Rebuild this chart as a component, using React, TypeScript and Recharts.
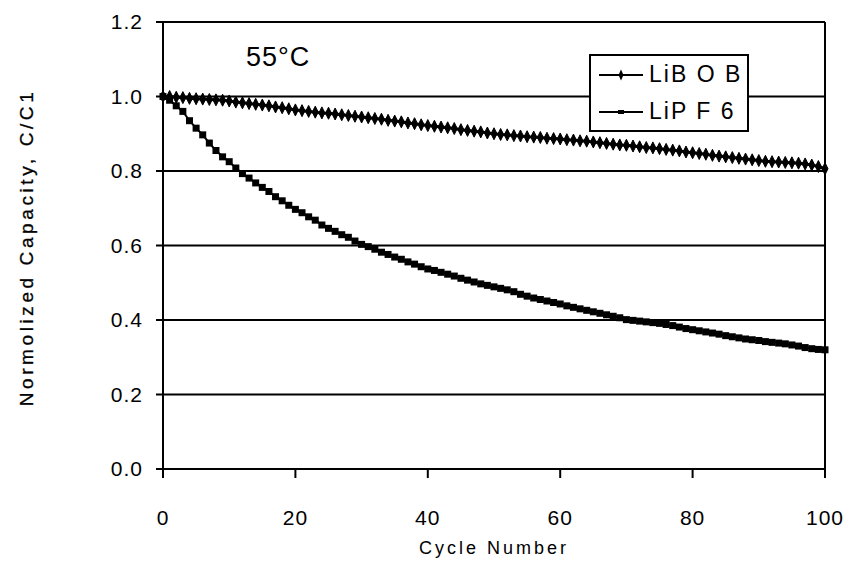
import React from "react";
import {
  LineChart,
  Line,
  XAxis,
  YAxis,
  CartesianGrid,
  ReferenceLine,
  Legend,
} from "recharts";

const cycles = [
  0, 1, 2, 3, 4, 5, 6, 7, 8, 9, 10, 11, 12, 13, 14, 15, 16, 17, 18, 19, 20,
  21, 22, 23, 24, 25, 26, 27, 28, 29, 30, 31, 32, 33, 34, 35, 36, 37, 38, 39, 40,
  41, 42, 43, 44, 45, 46, 47, 48, 49, 50, 51, 52, 53, 54, 55, 56, 57, 58, 59, 60,
  61, 62, 63, 64, 65, 66, 67, 68, 69, 70, 71, 72, 73, 74, 75, 76, 77, 78, 79, 80,
  81, 82, 83, 84, 85, 86, 87, 88, 89, 90, 91, 92, 93, 94, 95, 96, 97, 98, 99, 100,
];

const libob = [
  1.0, 1.0, 0.998, 0.997, 0.995, 0.994, 0.993, 0.992, 0.991, 0.99, 0.988,
  0.985, 0.983, 0.981, 0.979, 0.977, 0.975, 0.972, 0.97, 0.967, 0.964,
  0.962, 0.96, 0.958, 0.956, 0.955, 0.953, 0.951, 0.949, 0.947, 0.945,
  0.943, 0.941, 0.939, 0.936, 0.934, 0.932, 0.929, 0.927, 0.924, 0.922,
  0.92, 0.918, 0.916, 0.914, 0.911, 0.909, 0.907, 0.905, 0.902, 0.9,
  0.898, 0.897, 0.895, 0.894, 0.892, 0.891, 0.89, 0.888, 0.887, 0.886,
  0.884, 0.883, 0.881, 0.88, 0.878, 0.876, 0.874, 0.872, 0.87, 0.869,
  0.867, 0.865, 0.863, 0.862, 0.86, 0.858, 0.856, 0.854, 0.851, 0.849,
  0.847, 0.845, 0.842, 0.84, 0.838, 0.836, 0.834, 0.832, 0.83, 0.828,
  0.826, 0.825, 0.824, 0.823, 0.822, 0.821, 0.819, 0.816, 0.812, 0.806,
];

const lipf6 = [
  1.0, 0.99, 0.975, 0.96, 0.935, 0.915, 0.897, 0.875, 0.855, 0.838, 0.825,
  0.808, 0.793, 0.781, 0.768, 0.756, 0.745, 0.731, 0.72, 0.708, 0.697,
  0.688, 0.677, 0.668, 0.655, 0.646, 0.638, 0.629, 0.622, 0.612, 0.603,
  0.597, 0.59, 0.582, 0.576, 0.569, 0.563, 0.556, 0.55, 0.543, 0.537,
  0.533, 0.528, 0.523, 0.518, 0.512, 0.507, 0.502, 0.497, 0.493, 0.489,
  0.485, 0.481, 0.476, 0.469, 0.464, 0.459, 0.455, 0.451, 0.447, 0.443,
  0.438, 0.434, 0.43, 0.426, 0.422, 0.418, 0.414, 0.41, 0.406, 0.401,
  0.399, 0.397, 0.395, 0.393, 0.391, 0.388, 0.385, 0.381, 0.377, 0.374,
  0.371, 0.368, 0.365, 0.362, 0.358, 0.355, 0.352, 0.349, 0.347, 0.345,
  0.342, 0.34, 0.338, 0.336, 0.333, 0.33, 0.326, 0.323, 0.321, 0.32,
];

const xTicks = [0, 20, 40, 60, 80, 100];
const yTicks = [0, 0.2, 0.4, 0.6, 0.8, 1.0, 1.2];
const seriesNames = ["LiBOB", "LiPF6"];
const legendLabels = ["LiB O B", "LiP F 6"];
const tempLabel = "55°C";
const xTitle = "Cycle Number";
const yTitle = "Normolized Capacity, C/C1";

const data = cycles.map((c, i) => ({ cycle: c, libob: libob[i], lipf6: lipf6[i] }));

const FONT = "'Liberation Sans', Arial, sans-serif";

const DiamondDot = (props: any) => {
  const { cx, cy } = props;
  if (cx == null || cy == null) return null;
  return (
    <path
      d={`M${cx},${cy - 6} L${cx + 3},${cy} L${cx},${cy + 6} L${cx - 3},${cy} Z`}
      fill="#000"
      stroke="#000"
      strokeWidth={1}
    />
  );
};

const SquareDot = (props: any) => {
  const { cx, cy } = props;
  if (cx == null || cy == null) return null;
  return <rect x={cx - 3.5} y={cy - 3.5} width={7} height={7} fill="#000" />;
};

const LegendContent = () => (
  <div
    style={{
      width: 156,
      height: 74,
      border: "2px solid #000",
      background: "#fff",
      boxSizing: "content-box",
      fontFamily: FONT,
    }}
  >
    {seriesNames.map((n, i) => (
      <div
        key={n}
        style={{ display: "flex", alignItems: "center", height: 37, paddingLeft: 8 }}
      >
        <svg width={44} height={14} style={{ display: "block" }}>
          <line x1={0} y1={7} x2={44} y2={7} stroke="#000" strokeWidth={2} />
          {i === 0 ? (
            <path d="M22,1.5 L24.5,7 L22,12.5 L19.5,7 Z" fill="#000" />
          ) : (
            <rect x={19} y={5} width={6} height={4} fill="#000" />
          )}
        </svg>
        <span style={{ fontSize: 23, letterSpacing: 2, marginLeft: 6, lineHeight: "23px" }}>
          {legendLabels[i]}
        </span>
      </div>
    ))}
  </div>
);

const YTitle = (props: any) => {
  const { viewBox } = props;
  const cx = viewBox.x + 18;
  const cy = viewBox.y + viewBox.height / 2 + 2;
  return (
    <text
      x={cx}
      y={cy}
      transform={`rotate(-90 ${cx} ${cy})`}
      textAnchor="middle"
      dominantBaseline="central"
      fontFamily={FONT}
      fontSize={19}
      letterSpacing={3.6}
      fill="#000"
      stroke="#000"
      strokeWidth={0.3}
    >
      {yTitle}
    </text>
  );
};

export default function App() {
  return (
    <div style={{ position: "relative", width: 848, height: 567, background: "#fff" }}>
      <LineChart
        width={848}
        height={567}
        data={data}
        margin={{ top: 14, right: 31, bottom: 16, left: 0 }}
      >
        <CartesianGrid
          vertical={false}
          stroke="#000"
          strokeWidth={2}
          horizontalValues={yTicks}
        />
        <XAxis
          dataKey="cycle"
          type="number"
          domain={[0, 100]}
          ticks={xTicks}
          height={90}
          tickSize={9}
          tickMargin={32}
          stroke="#000"
          strokeWidth={2}
          tick={{ fill: "#000", fontSize: 21, fontFamily: FONT, letterSpacing: 1 }}
          label={{
            value: xTitle,
            position: "insideBottom",
            offset: 5,
            fill: "#000",
            fontSize: 18,
            fontFamily: FONT,
            letterSpacing: 3,
          }}
        />
        <YAxis
          type="number"
          domain={[0, 1.2]}
          ticks={yTicks}
          width={155}
          tickSize={7}
          tickMargin={13}
          interval={0}
          stroke="#000"
          strokeWidth={2}
          tickFormatter={(v: number) => v.toFixed(1)}
          tick={{ fill: "#000", fontSize: 21, fontFamily: FONT, letterSpacing: 1 }}
          label={<YTitle />}
        />
        <ReferenceLine x={100} stroke="#000" strokeWidth={2} />
        <Legend
          layout="horizontal"
          verticalAlign="middle"
          align="center"
          content={<LegendContent />}
          wrapperStyle={{ position: "absolute", left: 581, top: 46, width: "auto", height: "auto" }}
        />
        <Line
          dataKey="lipf6"
          name={seriesNames[1]}
          stroke="#000"
          strokeWidth={2}
          dot={<SquareDot />}
          isAnimationActive={false}
        />
        <Line
          dataKey="libob"
          name={seriesNames[0]}
          stroke="#000"
          strokeWidth={3}
          dot={<DiamondDot />}
          isAnimationActive={false}
        />
      </LineChart>
      <div
        style={{
          position: "absolute",
          left: 238,
          top: 36,
          fontFamily: FONT,
          fontSize: 27,
          letterSpacing: 1,
          lineHeight: "27px",
          color: "#000",
        }}
      >
        {tempLabel}
      </div>
    </div>
  );
}
